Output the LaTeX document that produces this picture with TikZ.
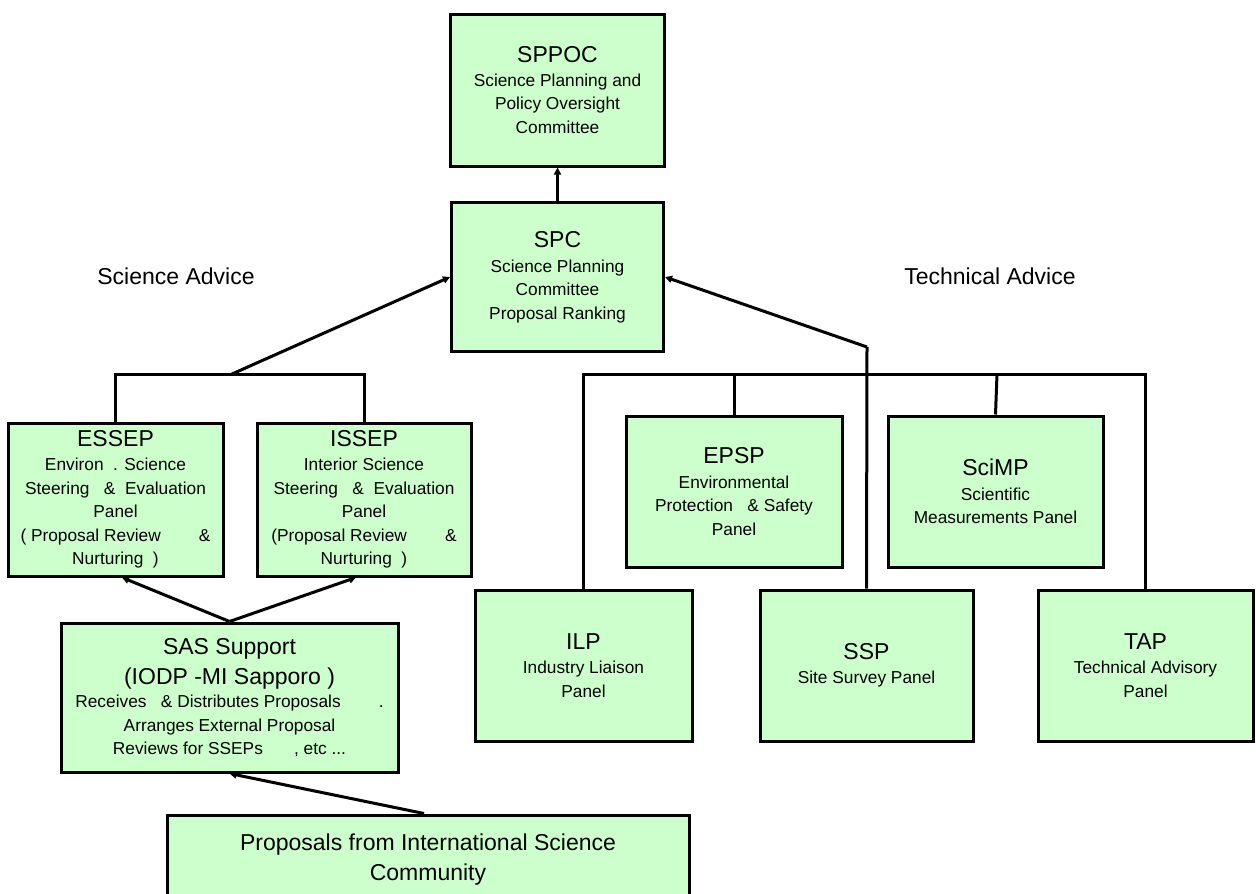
\documentclass[tikz,border=0pt]{standalone}
\usepackage{fontspec}
\setmainfont{Liberation Sans}
\usetikzlibrary{arrows.meta}
\definecolor{panelgreen}{HTML}{CCFFCC}
\newcommand\Tsz{\fontsize{23}{30}\selectfont}
\tikzset{
  panel/.style={draw=black, line width=3pt, fill=panelgreen, inner sep=0pt,
    align=center, font=\fontsize{17.3}{23.5}\selectfont},
  link/.style={line width=3pt, line join=miter},
  arr/.style={link, -{Triangle[length=7pt,width=7pt]}},
  lbl/.style={font=\Tsz, inner sep=0pt}
}
\begin{document}
\begin{tikzpicture}[x=1pt,y=-1pt]
\useasboundingbox (0,0) rectangle (1256,894);
\clip (0,0) rectangle (1256,894);
% boxes
\node[panel, minimum width=214pt, minimum height=152pt] (sppoc) at (557.5,90)
  {{\Tsz SPPOC}\\[0pt]Science Planning and\\Policy Oversight\\Committee};
\node[panel, minimum width=212pt, minimum height=149pt] (spc) at (557.5,277)
  {{\Tsz SPC}\\[1.5pt]Science Planning\\Committee\\Proposal Ranking};
\node[panel, minimum width=215pt, minimum height=153pt] (essep) at (115.5,499.5)
  {{\Tsz ESSEP}\\[1pt]Environ~~. Science\\Steering~~~\&~~Evaluation\\Panel\\( Proposal Review\hspace{2.2em}\&\\Nurturing~~)};
\node[panel, minimum width=214pt, minimum height=153pt] (issep) at (364,499.5)
  {{\Tsz ISSEP}\\[1pt]Interior Science\\Steering~~~\&~~Evaluation\\Panel\\(Proposal Review\hspace{2.2em}\&\\Nurturing~~)};
\node[panel, minimum width=337pt, minimum height=149pt] (sas) at (229.5,697.5)
  {{\Tsz SAS Support}\\[6.5pt]{\Tsz (IODP -MI Sapporo~)}\\[0pt]Receives~~~\&~Distributes Proposals\hspace{2.2em}.\\Arranges External Proposal\hspace{2em}\\Reviews for SSEPs\hspace{1.8em}, etc ...};
\node[panel, minimum width=522pt, minimum height=90pt, font=\Tsz] (prop) at (428,860)
  {Proposals from International Science\\Community};
\node[panel, minimum width=216pt, minimum height=151pt] (epsp) at (734,491.5)
  {{\Tsz EPSP}\\[1pt]Environmental\\Protection~~~\&~Safety\\Panel};
\node[panel, minimum width=215pt, minimum height=151pt] (scimp) at (995.5,491.5)
  {{\Tsz SciMP}\\[1pt]Scientific\\Measurements Panel};
\node[panel, minimum width=217pt, minimum height=151pt] (ilp) at (583.5,665.5)
  {{\Tsz ILP}\\[1pt]Industry Liaison\\Panel};
\node[panel, minimum width=213pt, minimum height=151pt] (ssp) at (866.5,665.5)
  {{\Tsz SSP}\\[1pt]Site Survey Panel};
\node[panel, minimum width=215pt, minimum height=151pt] (tap) at (1145.5,665.5)
  {{\Tsz TAP}\\[1pt]Technical Advisory\\Panel};
% labels
\node[lbl] (sciadv) at (176,276) {Science Advice};
\node[lbl] (techadv) at (990,276) {Technical Advice};
% junctions
\coordinate (sj) at (232,374);
\coordinate (tj) at (867,347);
\coordinate (tbar) at (0,374);
% connectors
\draw[arr] (spc.north) -- (sppoc.south);
\draw[arr] (sj) -- (spc.west);
\draw[link] (essep.north) -- (essep.north |- sj) -- (issep.north |- sj) -- (issep.north);
\draw[arr] (sas.north) -- ([xshift=6.5pt]essep.south);
\draw[arr] (sas.north) -- ([xshift=-8pt]issep.south);
\draw[arr] ([xshift=-4pt]prop.north) -- (sas.south);
\draw[arr] (tj) -- (spc.east);
\draw[link] (tj) -- (ssp.north);
\draw[link] (ilp.north) -- (ilp.north |- tbar) -- (tap.north |- tbar) -- (tap.north);
\draw[link] (epsp.north) -- (epsp.north |- tbar);
\draw[link] (scimp.north) -- ([xshift=1.5pt]scimp.north |- tbar);
\end{tikzpicture}
\end{document}
